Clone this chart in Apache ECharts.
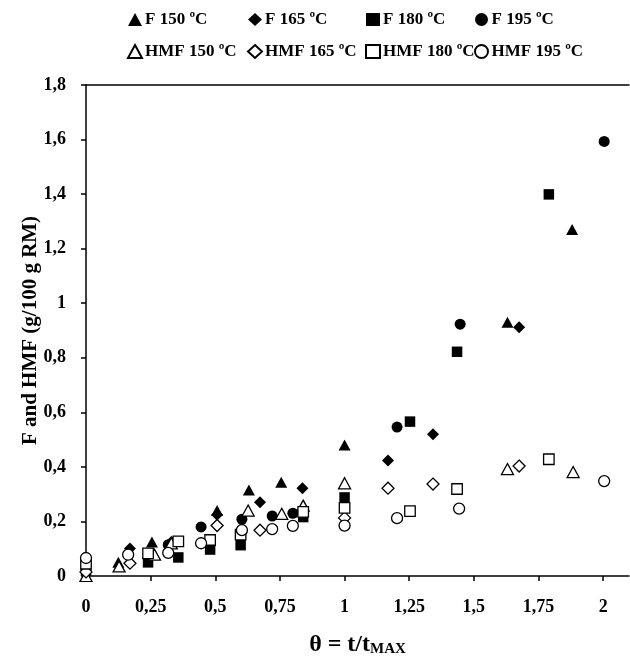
<!DOCTYPE html>
<html>
<head>
<meta charset="utf-8">
<script src="https://cdn.jsdelivr.net/npm/echarts@6/dist/echarts.min.js"></script>
<style>
html,body{margin:0;padding:0;background:#fff;}
#chart{width:630px;height:660px;}
</style>
</head>
<body>
<div id="chart"></div>
<script>
// ---- data (θ, value) ----
const seriesNames = ['F 150 ºC','F 165 ºC','F 180 ºC','F 195 ºC','HMF 150 ºC','HMF 165 ºC','HMF 180 ºC','HMF 195 ºC'];
const f150 = [[0,0.0],[0.125,0.05],[0.255,0.125],[0.507,0.24],[0.63,0.315],[0.755,0.344],[1.0,0.48],[1.63,0.93],[1.88,1.27]];
const f165 = [[0,0.015],[0.17,0.101],[0.33,0.125],[0.507,0.225],[0.673,0.27],[0.837,0.322],[1.168,0.423],[1.342,0.52],[1.675,0.912]];
const f180 = [[0,0.02],[0.24,0.05],[0.357,0.068],[0.48,0.097],[0.598,0.113],[0.84,0.216],[1.0,0.288],[1.253,0.566],[1.435,0.822],[1.79,1.399]];
const f195 = [[0,0.02],[0.318,0.115],[0.445,0.18],[0.603,0.208],[0.72,0.22],[0.80,0.23],[1.203,0.546],[1.447,0.923],[2.004,1.593]];
const hmf150 = [[0,0.0],[0.128,0.035],[0.265,0.078],[0.33,0.12],[0.627,0.24],[0.757,0.228],[0.84,0.258],[1.0,0.34],[1.63,0.392],[1.884,0.381]];
const hmf165 = [[0,0.015],[0.17,0.047],[0.507,0.185],[0.673,0.168],[1.0,0.213],[1.168,0.322],[1.342,0.337],[1.675,0.403]];
const hmf180 = [[0,0.045],[0.24,0.083],[0.357,0.127],[0.48,0.132],[0.598,0.152],[0.84,0.235],[1.0,0.25],[1.253,0.238],[1.435,0.319],[1.79,0.428]];
const hmf195 = [[0,0.066],[0.163,0.078],[0.318,0.085],[0.445,0.12],[0.603,0.168],[0.72,0.172],[0.80,0.184],[1.0,0.185],[1.203,0.212],[1.443,0.247],[2.004,0.348]];
const xTicks = [0,0.25,0.5,0.75,1,1.25,1.5,1.75,2];
const yTicks = [0,0.2,0.4,0.6,0.8,1,1.2,1.4,1.6,1.8];

const FONT = 'Liberation Serif';
const fmt = v => String(+(+v).toFixed(2)).replace('.', ',');
const symbols = ['triangle','diamond','rect','circle'];
const allData = [f150,f165,f180,f195,hmf150,hmf165,hmf180,hmf195];

const series = allData.map((d, i) => {
  const hollow = i >= 4;
  const sym = symbols[i % 4];
  let size = 11;
  if (sym === 'triangle') size = [12, 11];
  if (sym === 'diamond') size = 12;
  if (sym === 'rect') size = 10.5;
  return {
    name: seriesNames[i],
    type: 'scatter',
    symbol: sym,
    symbolSize: size,
    data: d,
    itemStyle: hollow ? {color:'#fff', borderColor:'#000', borderWidth:1.3, opacity:1}
                      : {color:'#000', borderColor:'#000', borderWidth:0, opacity:1},
    emphasis: {disabled: true},
    z: 2 + i
  };
});

const legendCols = [134, 254, 372, 481];
const legends = legendCols.map((x, c) => ({
  orient: 'vertical',
  left: x - 7,
  top: 11,
  padding: 0,
  itemWidth: 14,
  itemHeight: 13,
  itemGap: 15,
  selectedMode: false,
  data: [seriesNames[c], seriesNames[c + 4]],
  textStyle: {fontFamily: FONT, fontWeight: 'bold', fontSize: 17, color: '#000', padding: [0,0,0,-2]}
}));

const chart = echarts.init(document.getElementById('chart'), null, {renderer: 'canvas'});
chart.setOption({
  backgroundColor: '#fff',
  animation: false,
  legend: legends,
  grid: {left: 86, right: 1, top: 85, bottom: 84, containLabel: false, outerBoundsMode: 'none'},
  xAxis: [{
    type: 'value', min: 0, max: 2.1, interval: 0.25,
    axisLine: {show: true, lineStyle: {color: '#000', width: 1.5}},
    axisTick: {show: true, inside: false, length: 5, lineStyle: {color: '#000', width: 1.5}, customValues: xTicks},
    axisLabel: {margin: 22, fontFamily: FONT, fontWeight: 'bold', fontSize: 18, color: '#000', formatter: fmt, customValues: xTicks},
    splitLine: {show: false},
    name: '{a|θ = t/t}{b|MAX}',
    nameLocation: 'middle',
    nameGap: 57,
    nameTextStyle: {
      fontFamily: FONT, fontWeight: 'bold', color: '#000',
      rich: {
        a: {fontFamily: FONT, fontWeight: 'bold', fontSize: 24, color: '#000'},
        b: {fontFamily: FONT, fontWeight: 'bold', fontSize: 15, color: '#000', verticalAlign: 'bottom', padding: [9,0,0,0]}
      }
    }
  }, {
    type: 'value', min: 0, max: 2.1, position: 'top',
    axisLine: {show: true, onZero: false, lineStyle: {color: '#000', width: 1.5}},
    axisTick: {show: false}, axisLabel: {show: false}, splitLine: {show: false}
  }],
  yAxis: {
    type: 'value', min: 0, max: 1.8, interval: 0.2,
    axisLine: {show: true, lineStyle: {color: '#000', width: 1.5}},
    axisTick: {show: true, inside: false, length: 5, lineStyle: {color: '#000', width: 1.5}},
    axisLabel: {margin: 20, fontFamily: FONT, fontWeight: 'bold', fontSize: 18, color: '#000', formatter: fmt},
    splitLine: {show: false},
    name: 'F and HMF (g/100 g RM)',
    nameLocation: 'middle',
    nameGap: 45,
    nameMoveOverlap: false,
    nameRotate: 90,
    nameTextStyle: {fontFamily: FONT, fontWeight: 'bold', fontSize: 21, color: '#000'}
  },
  series: series
});
</script>
</body>
</html>
